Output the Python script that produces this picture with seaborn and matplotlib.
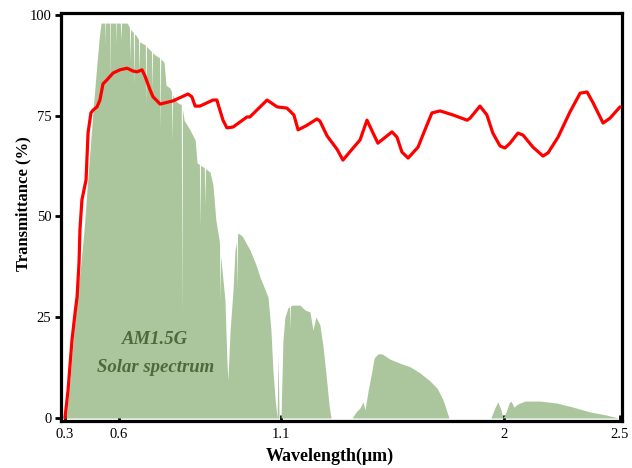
import numpy as np
import pandas as pd
import matplotlib
matplotlib.use("Agg")
import matplotlib.pyplot as plt
import seaborn as sns

# Transmittance of the film (%)
trans_wl = [0.300, 0.317, 0.339, 0.356, 0.367, 0.378, 0.383, 0.394, 0.417, 0.428,
            0.444, 0.456, 0.478, 0.494, 0.511, 0.533, 0.567, 0.603, 0.625, 0.643,
            0.656, 0.671, 0.680, 0.696, 0.705, 0.727, 0.767, 0.813, 0.825, 0.835,
            0.850, 0.890, 0.902, 0.921, 0.933, 0.952, 0.995, 1.004, 1.057, 1.088,
            1.124, 1.152, 1.169, 1.201, 1.245, 1.257, 1.286, 1.326, 1.350, 1.391,
            1.419, 1.447, 1.491, 1.548, 1.568, 1.588, 1.613, 1.653, 1.681, 1.709,
            1.742, 1.794, 1.851, 1.863, 1.903, 1.931, 1.955, 1.984, 2.004, 2.026,
            2.060, 2.082, 2.125, 2.168, 2.190, 2.233, 2.284, 2.328, 2.358, 2.384,
            2.427, 2.457, 2.500]
trans_pct = [0.0, 6.9, 19.4, 26.1, 30.0, 38.5, 46.7, 54.1, 59.1, 70.7,
             75.7, 76.4, 77.2, 78.9, 82.9, 83.9, 85.6, 86.4, 86.8, 86.1,
             85.9, 86.4, 84.9, 81.4, 79.7, 77.9, 78.7, 80.4, 79.7, 77.4,
             77.4, 78.9, 78.9, 73.9, 72.0, 72.2, 74.7, 74.7, 78.9, 77.2,
             76.9, 75.2, 71.5, 72.5, 74.2, 73.7, 70.0, 66.7, 64.0, 67.0,
             69.0, 73.9, 68.2, 71.0, 69.7, 66.0, 64.5, 67.2, 71.5, 75.7,
             76.2, 75.2, 73.9, 74.4, 77.4, 75.2, 70.7, 67.5, 67.0, 68.2,
             70.7, 70.2, 67.2, 65.0, 65.8, 69.7, 75.9, 80.6, 80.9, 78.2,
             73.2, 74.4, 77.2]

# AM1.5G solar irradiance, normalised to the percentage axis
solar_wl = [0.306, 0.328, 0.350, 0.372, 0.389, 0.406, 0.422, 0.439, 0.456, 0.472,
            0.489, 0.500, 0.625, 0.637, 0.652, 0.665, 0.680, 0.696, 0.711, 0.727,
            0.739, 0.745, 0.757, 0.773, 0.782, 0.794, 0.801, 0.819, 0.835, 0.841,
            0.865, 0.881, 0.890, 0.899, 0.909, 0.918, 0.927, 0.933, 0.936, 0.943,
            0.952, 0.958, 0.967, 0.980, 1.004, 1.023, 1.035, 1.051, 1.060, 1.069,
            1.075, 1.082, 1.088, 1.091, 1.094, 1.100, 1.108, 1.116, 1.128, 1.144,
            1.177, 1.197, 1.217, 1.229, 1.241, 1.257, 1.269, 1.282, 1.294, 1.302,
            1.387, 1.403, 1.419, 1.431, 1.439, 1.452, 1.464, 1.476, 1.491, 1.508,
            1.540, 1.580, 1.621, 1.661, 1.701, 1.730, 1.754, 1.770, 1.778,
            1.947, 1.963, 1.975, 1.988, 1.996, 2.009, 2.022, 2.030, 2.043, 2.060,
            2.091, 2.155, 2.228, 2.297, 2.371, 2.444, 2.491]
solar_val = [0.0, 9.4, 21.8, 31.8, 38.7, 46.7, 56.6, 66.5, 76.4, 85.1,
             93.8, 98.0, 98.0, 96.3, 95.0, 93.3, 92.6, 91.3, 90.1, 89.3,
             88.3, 82.6, 81.9, 78.9, 78.2, 77.7, 73.9, 71.5, 69.0, 63.3,
             62.0, 61.0, 57.8, 49.1, 44.2, 36.7, 29.3, 14.4, 9.4, 21.8,
             31.8, 41.7, 45.9, 45.2, 41.7, 38.0, 35.0, 31.8, 30.0, 21.8,
             11.9, 4.5, 0.0, 15.6, 0.0, 0.0, 19.4, 25.1, 27.3, 28.0,
             28.0, 26.8, 26.3, 21.8, 25.1, 23.1, 18.1, 10.7, 3.2, 0.0,
             0.0, 1.5, 2.5, 4.0, 2.0, 6.9, 10.7, 14.9, 15.9, 15.9,
             14.6, 13.6, 12.7, 11.2, 9.2, 7.4, 4.5, 1.5, 0.0,
             0.0, 2.5, 4.0, 2.0, 0.0, 1.5, 3.7, 4.2, 2.7, 3.5,
             4.2, 4.2, 3.7, 2.7, 1.5, 0.7, 0.0]

# Narrow absorption lines cutting into the spectrum: centre and floor
line_wl = [0.522, 0.550, 0.583, 0.606, 0.634, 0.646, 0.662, 0.683, 0.702, 0.727,
           0.764, 0.794, 0.850, 0.865, 0.912, 0.964, 1.136, 1.229]
line_depth = [92.6, 82.6, 92.6, 93.8, 88.8, 82.6, 85.1, 77.7, 81.4, 71.5,
              69.0, 25.6, 47.4, 52.9, 29.3, 31.8, 21.8, 21.8]

x_ticks = [0.3, 0.6, 1.1, 2.0, 2.5]
x_tick_labels = ["0.3", "0.6", "1.1", "2", "2.5"]
y_ticks = [0, 25, 50, 75, 100]

# Uneven wavelength axis: tick positions in display-length units
knot_wl = np.array([0.0, 0.3, 0.6, 1.1, 2.0, 2.5, 3.0])
knot_pos = np.array([-54.0, 0.0, 54.0, 216.0, 439.0, 555.0, 671.0])


def fwd(x):
    return np.interp(x, knot_wl, knot_pos)


def inv(p):
    return np.interp(p, knot_pos, knot_wl)


# Spectrum with the absorption lines inserted as narrow notches
half_w = 0.0018
lw = np.array(line_wl)
grid = np.unique(np.concatenate([solar_wl, lw - half_w, lw, lw + half_w]))
spec = np.interp(grid, solar_wl, solar_val)
for c, d in zip(line_wl, line_depth):
    i = np.argmin(np.abs(grid - c))
    spec[i] = min(spec[i], d)

trans_df = pd.DataFrame({"Wavelength": trans_wl, "Transmittance": trans_pct})

sns.set_theme(style="ticks")
plt.rcParams["font.family"] = ["Liberation Serif", "DejaVu Serif"]

fig = plt.figure(figsize=(6.32, 4.68), dpi=100)
ax = fig.add_axes([61 / 632, 1 - 421 / 468, 561 / 632, 408 / 468])
ax.set_xscale("function", functions=(fwd, inv))

ax.fill_between(grid, 0, spec, color="#abc69c", linewidth=0, zorder=1)
sns.lineplot(data=trans_df, x="Wavelength", y="Transmittance", ax=ax,
             color="#ff0000", linewidth=2.3, zorder=3, sort=False,
             solid_joinstyle="round", solid_capstyle="round")

ax.text(0.712, 19.4, "AM1.5G", ha="center", va="center", fontsize=13.5,
        fontweight="bold", fontstyle="italic", color="#4d6b3a", zorder=4)
ax.text(0.714, 12.6, "Solar spectrum", ha="center", va="center", fontsize=13.5,
        fontweight="bold", fontstyle="italic", color="#4d6b3a", zorder=4)

ax.set_xlim(0.2778, 2.5086)
ax.set_ylim(-0.75, 100.5)
ax.set_xticks(x_ticks)
ax.set_xticklabels(x_tick_labels)
ax.set_yticks(y_ticks)
ax.set_yticklabels([str(v) for v in y_ticks])
ax.minorticks_off()

ax.tick_params(axis="x", direction="in", length=4, width=2, labelsize=10.5,
               pad=5, colors="black")
ax.tick_params(axis="y", direction="out", length=4, width=2, labelsize=10.5,
               pad=3, colors="black")
for s in ax.spines.values():
    s.set_linewidth(2.3)
    s.set_color("black")

ax.set_xlabel("Wavelength(μm)", fontsize=13, fontweight="bold", color="black")
ax.set_ylabel("Transmittance (%)", fontsize=12, fontweight="bold", color="black")
ax.xaxis.set_label_coords(0.479, -0.066)
ax.yaxis.set_label_coords(-0.052, 0.534)
ax.xaxis.label.set_va("top")

fig.savefig("out.png", dpi=100, facecolor="white")
